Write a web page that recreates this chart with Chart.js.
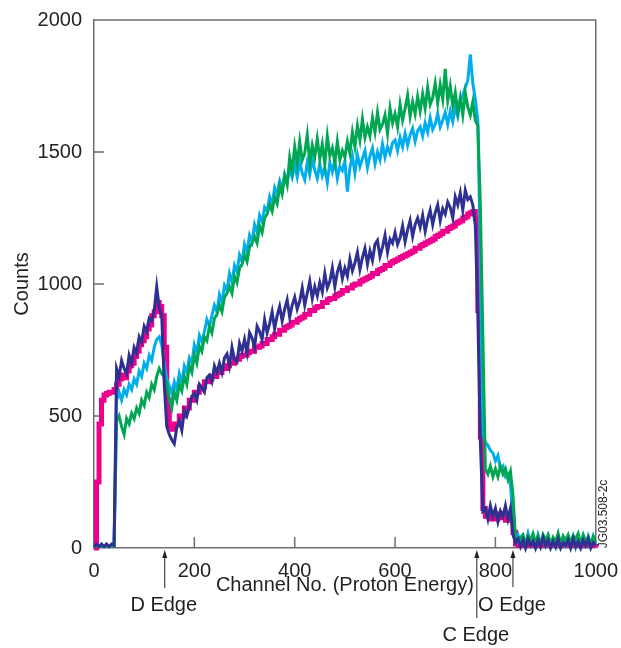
<!DOCTYPE html>
<html>
<head>
<meta charset="utf-8">
<script src="https://cdn.jsdelivr.net/npm/chart.js@4.4.1/dist/chart.umd.min.js"></script>
<style>
  html, body { margin: 0; padding: 0; background: #fff; }
  #wrap { width: 621px; height: 648px; }
</style>
</head>
<body>
<div id="wrap"><canvas id="chart" width="621" height="648"></canvas></div>
<script>
// one sample every 5 channels, 0..1000
const CH_STEP = 5;
const channels = Array.from({ length: 201 }, (_, i) => i * CH_STEP);

// counts, 10 samples per row (50 channels)
const pinkCounts = [
  0, 250, 470, 560, 580, 585, 590, 590, 600, 620,
  640, 655, 645, 670, 690, 700, 725, 745, 770, 785,
  800, 830, 845, 880, 895, 930, 915, 880, 760, 560,
  460, 450, 470, 470, 500, 500, 530, 530, 560, 560,
  590, 590, 610, 610, 630, 630, 640, 650, 650, 665,
  665, 680, 680, 690, 700, 700, 715, 715, 725, 730,
  730, 740, 745, 745, 760, 760, 765, 775, 775, 790,
  790, 800, 810, 810, 825, 825, 835, 840, 845, 855,
  855, 865, 870, 875, 885, 885, 900, 900, 910, 915,
  915, 930, 930, 940, 945, 945, 955, 960, 965, 975,
  975, 985, 985, 995, 1000, 1000, 1010, 1015, 1020, 1025,
  1030, 1040, 1040, 1050, 1055, 1060, 1070, 1070, 1080, 1085,
  1090, 1095, 1100, 1105, 1110, 1115, 1120, 1125, 1135, 1135,
  1145, 1150, 1155, 1160, 1165, 1170, 1180, 1185, 1190, 1200,
  1200, 1210, 1215, 1220, 1230, 1235, 1240, 1250, 1255, 1265,
  1270, 1275, 1250, 900, 420, 150, 120, 130, 110, 125,
  110, 130, 115, 120, 105, 125, 110, 60, 15, 10,
  20, 10, 20, 10, 20, 10, 20, 10, 20, 10,
  20, 10, 20, 10, 20, 10, 20, 10, 20, 10,
  20, 10, 20, 10, 20, 10, 20, 10, 20, 10,
  15
];

const blueCounts = [
  5, 15, 5, 15, 5, 15, 5, 15, 10, 680,
  650, 710, 680, 660, 730, 700, 760, 740, 800, 780,
  840, 820, 870, 860, 900, 990, 910, 880, 620, 460,
  430, 410, 395, 455, 480, 445, 520, 500, 535, 575,
  585, 560, 620, 605, 590, 645, 655, 630, 690, 665,
  700, 665, 720, 735, 690, 760, 715, 705, 775, 745,
  790, 740, 815, 795, 760, 840, 820, 790, 865, 815,
  850, 895, 830, 880, 915, 860, 905, 940, 875, 920,
  950, 905, 935, 985, 920, 965, 1010, 945, 990, 955,
  1005, 970, 1040, 985, 1010, 1060, 990, 1045, 1075, 1020,
  1060, 1030, 1095, 1050, 1080, 1120, 1055, 1100, 1135, 1075,
  1125, 1090, 1150, 1165, 1105, 1140, 1185, 1120, 1170, 1155,
  1195, 1150, 1175, 1220, 1160, 1205, 1240, 1180, 1225, 1250,
  1215, 1260, 1200, 1245, 1280, 1225, 1270, 1300, 1240, 1285,
  1265, 1310, 1290, 1250, 1330, 1300, 1345, 1280, 1355, 1320,
  1330, 1300, 1220, 880, 400, 140, 150, 110, 160, 120,
  150, 100, 140, 120, 160, 110, 150, 50, 20, 35,
  5, 30, 0, 35, 10, 25, 0, 30, 5, 40,
  10, 30, 0, 25, 5, 35, 0, 20, 10, 30,
  0, 35, 5, 25, 0, 30, 10, 35, 0, 20,
  10
];

const cyanCounts = [
  5, 10, 5, 10, 5, 10, 5, 10, 8, 560,
  590, 560, 600, 580, 620, 600, 640, 620, 670, 650,
  700, 680, 730, 710, 760, 790, 800, 770, 700, 640,
  615, 585, 630, 600, 660, 625, 690, 665, 720, 700,
  770, 740, 805, 780, 820, 865, 840, 880, 920, 895,
  960, 930, 995, 975, 1040, 1005, 1070, 1045, 1110, 1085,
  1150, 1120, 1185, 1160, 1225, 1195, 1260, 1235, 1290, 1275,
  1330, 1300, 1365, 1340, 1390, 1360, 1415, 1385, 1440, 1405,
  1450, 1405, 1465, 1420, 1395, 1460, 1415, 1475, 1430, 1400,
  1455, 1410, 1440, 1385, 1460, 1425, 1470, 1400, 1445, 1430,
  1465, 1350, 1440, 1485, 1420, 1490, 1445, 1475, 1505, 1440,
  1485, 1515, 1455, 1500, 1470, 1530, 1480, 1520, 1495, 1535,
  1545, 1505, 1555, 1520, 1570, 1525, 1565, 1590, 1540, 1580,
  1595, 1560, 1610, 1575, 1630, 1585, 1605, 1645, 1595, 1620,
  1650, 1605, 1655, 1615, 1670, 1635, 1690, 1715, 1745, 1770,
  1870, 1760, 1700, 1620, 1100, 430, 400, 390, 370, 360,
  330, 350, 300, 310, 270, 280, 240, 110, 30, 50,
  20, 45, 10, 55, 15, 40, 5, 50, 20, 35,
  10, 45, 15, 30, 5, 50, 20, 40, 10, 35,
  15, 45, 5, 40, 20, 30, 10, 45, 15, 25,
  10
];

const greenCounts = [
  5, 10, 5, 10, 5, 10, 5, 10, 8, 480,
  500, 460, 430, 490, 470, 510, 490, 530, 510, 560,
  540, 590, 570, 620, 600, 650, 680, 660, 650, 620,
  565, 530, 590, 560, 620, 595, 650, 620, 690, 665,
  730, 700, 765, 745, 800, 785, 840, 815, 870, 885,
  920, 895, 950, 965, 990, 965, 1030, 1005, 1060, 1075,
  1110, 1085, 1140, 1155, 1180, 1155, 1220, 1195, 1250, 1265,
  1300, 1275, 1330, 1305, 1370, 1340, 1410, 1375, 1480, 1430,
  1520, 1455, 1540, 1470, 1495, 1565, 1460, 1525, 1480, 1550,
  1475, 1530, 1455, 1560, 1485, 1515, 1460, 1540, 1470, 1505,
  1480, 1540, 1495, 1575, 1520, 1600, 1545, 1625, 1555, 1595,
  1560, 1630, 1575, 1650, 1585, 1605, 1640, 1570, 1665, 1610,
  1645, 1595, 1680, 1620, 1665, 1715, 1635, 1690, 1645, 1710,
  1655, 1720, 1665, 1745, 1680, 1705, 1760, 1685, 1755, 1700,
  1815, 1695, 1750, 1675, 1725, 1650, 1705, 1640, 1725, 1670,
  1640, 1690, 1620, 1600, 1300, 800, 300, 280, 310, 270,
  300, 270, 310, 280, 300, 260, 290, 200, 40, 25,
  40, 50, 15, 45, 30, 55, 20, 45, 10, 50,
  30, 50, 15, 40, 25, 55, 10, 45, 30, 50,
  20, 45, 35, 55, 15, 50, 25, 40, 10, 45,
  20
];

const xTicks = [0, 200, 400, 600, 800, 1000];
const yTicks = [0, 500, 1000, 1500, 2000];
const edgeNames = ["D Edge", "C Edge", "O Edge"];
const edgeChannels = [141, 763, 835];

const FONT = "'Liberation Sans', Arial, sans-serif";
const INK = "#231f20";
const AXIS_GREY = "#6d6e71";

function pts(values) {
  return values.map((v, i) => ({ x: channels[i], y: v }));
}

// frame, inward ticks and the edge markers
const decor = {
  id: "decor",
  beforeDatasetsDraw(chart) {
    const { ctx, chartArea: a, scales: { x, y } } = chart;
    ctx.save();
    ctx.strokeStyle = AXIS_GREY;
    ctx.lineWidth = 1.5;
    ctx.beginPath();
    ctx.moveTo(a.left, a.top);
    ctx.lineTo(a.right, a.top);
    ctx.lineTo(a.right, a.bottom);
    yTicks.slice(1, -1).forEach((v) => {
      const py = y.getPixelForValue(v);
      ctx.moveTo(a.left, py);
      ctx.lineTo(a.left + 10, py);
    });
    xTicks.slice(1, -1).forEach((v) => {
      const px = x.getPixelForValue(v);
      ctx.moveTo(px, a.bottom);
      ctx.lineTo(px, a.bottom - 11);
    });
    ctx.stroke();
    ctx.restore();
  },
  afterDraw(chart) {
    const { ctx, chartArea: a, scales: { x } } = chart;
    const textY = [605, 635, 605];
    const lineEnd = [588, 618, 587];
    ctx.save();
    ctx.fillStyle = INK;
    ctx.strokeStyle = INK;
    ctx.lineWidth = 1;
    ctx.font = "20px " + FONT;
    ctx.textAlign = "center";
    ctx.textBaseline = "middle";
    edgeNames.forEach((name, i) => {
      const px = x.getPixelForValue(edgeChannels[i]);
      const tip = a.bottom + 2;
      ctx.beginPath();
      ctx.moveTo(px, lineEnd[i]);
      ctx.lineTo(px, tip + 5);
      ctx.stroke();
      ctx.beginPath();
      ctx.moveTo(px, tip);
      ctx.lineTo(px - 2.5, tip + 8);
      ctx.lineTo(px + 2.5, tip + 8);
      ctx.closePath();
      ctx.fill();
      ctx.fillText(name, px - 1, textY[i]);
    });
    // figure id, written bottom-to-top
    ctx.translate(604, 514);
    ctx.rotate(-Math.PI / 2);
    ctx.font = "12px " + FONT;
    ctx.fillText("JG03.508-2c", 0, 0);
    ctx.restore();
  }
};

function line(label, values, color, width, stepped) {
  return {
    label,
    data: pts(values),
    borderColor: color,
    backgroundColor: color,
    borderWidth: width,
    pointRadius: 0,
    stepped: stepped,
    tension: 0,
    clip: 6
  };
}

const plainNumber = (v) => String(v);

new Chart(document.getElementById("chart"), {
  type: "line",
  data: {
    // first dataset is drawn on top
    datasets: [
      line("dark blue", blueCounts, "#2e3192", 3, false),
      line("green", greenCounts, "#00a651", 3, false),
      line("cyan", cyanCounts, "#00aeef", 3, false),
      line("magenta", pinkCounts, "#ec008c", 5, true)
    ]
  },
  options: {
    responsive: false,
    animation: false,
    devicePixelRatio: 1,
    layout: { padding: { top: 20, right: 24, left: 0, bottom: 0 } },
    plugins: { legend: { display: false }, tooltip: { enabled: false } },
    scales: {
      x: {
        type: "linear",
        min: 0,
        max: 1000,
        afterBuildTicks: (s) => { s.ticks = xTicks.map((v) => ({ value: v })); },
        afterFit: (s) => { s.height = 100; },
        grid: { display: false },
        border: { display: true, color: AXIS_GREY, width: 1.5 },
        ticks: { color: INK, padding: 3, font: { family: FONT, size: 20 }, callback: plainNumber },
        title: {
          display: true,
          text: "Channel No. (Proton Energy)",
          color: INK,
          font: { family: FONT, size: 20 },
          padding: { top: 0, bottom: 51 }
        }
      },
      y: {
        min: 0,
        max: 2000,
        afterBuildTicks: (s) => { s.ticks = yTicks.map((v) => ({ value: v })); },
        afterFit: (s) => { s.width = 94; },
        grid: { display: false },
        border: { display: true, color: AXIS_GREY, width: 1.5 },
        ticks: { color: INK, padding: 4, font: { family: FONT, size: 20 }, callback: plainNumber },
        title: {
          display: true,
          text: "Counts",
          color: INK,
          font: { family: FONT, size: 20 },
          padding: { top: 10, bottom: 0 }
        }
      }
    }
  },
  plugins: [decor]
});
</script>
</body>
</html>
